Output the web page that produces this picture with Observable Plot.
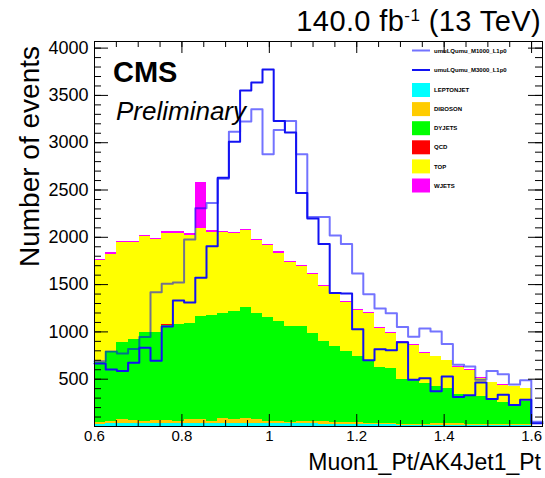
<!DOCTYPE html>
<html><head><meta charset="utf-8">
<script src="https://cdn.jsdelivr.net/npm/d3@7"></script>
<script src="https://cdn.jsdelivr.net/npm/@observablehq/plot@0.6"></script>
<style>
html,body{margin:0;padding:0;background:#fff;}
#chart{width:545px;height:478px;}
</style></head><body><div id="chart"></div>
<script>
// ---- categories ----
const processes = ["LEPTONJET","DIBOSON","DYJETS","QCD","TOP","WJETS"];
const processColors = ["#00ffff","#ffcc00","#00ff00","#ff0000","#ffff00","#ff00ff"];
const signalNames = ["umuLQumu_M1000_L1p0","umuLQumu_M3000_L1p0"];

// ---- binning (40 bins) ----
const xLow = 0.6, xHigh = 1.625, nBins = 40;

// ---- background series (events per bin) ----
const bkgLeptonjet = [18,28,28,28,28,28,28,28,28,28, 28,28,28,28,28,28,28,28,28,28, 25,25,25,22,22,18,18,12,12,12, 12,12,12,10,10,10,10,8,8,0];
const bkgDiboson   = [28,28,46,39,28,35,35,28,42,42, 28,53,42,53,42,25,28,18,25,25, 28,21,21,17,13,10,10,9,9,9, 16,16,16,11,8,8,8,10,10,0];
const bkgDyjets    = [629,736,812,854,935,927,1001,1025,1022,1094, 1120,1113,1141,1173,1124,1099,1057,1014,1009,928, 843,796,752,704,666,591,583,475,471,433, 398,372,312,310,298,272,237,212,242,0];
const bkgQcd       = [0,0,0,0,0,0,17,0,0,0, 0,0,0,0,0,0,0,0,0,0, 0,0,0,0,0,0,0,0,0,0, 0,0,0,0,0,0,0,0,0,0];
const bkgTop       = [1075,1028,1055,1023,1017,983,963,963,930,925, 879,852,826,813,771,761,719,675,634,629, 579,551,508,481,489,417,373,390,368,316, 309,295,287,264,194,170,183,192,139,0];
const bkgWjets     = [16,15,16,16,16,16,16,16,16,490, 15,15,15,15,15,14,14,12,10,12, 12,12,12,12,10,10,10,8,8,8, 8,8,8,8,8,6,6,6,6,0];

// ---- signal series ----
const sigM1000 = [690,792,771,819,947,1418,1508,1522,1977,2306, 2364,2620,3115,3225,3355,2877,3135,3230,2877,2216, 2216,2018,1930,1618,1398,1247,1198,1053,950,1036, 1004,873,652,634,495,588,553,444,489,49];
const sigM3000 = [666,602,586,673,833,694,1056,1331,1312,1573, 1906,2630,3009,3552,3636,3773,3230,3107,2469,2199, 1929,1412,1406,1028,701,817,806,890,495,510, 372,528,313,331,465,292,335,228,282,35];

// ---- axis ticks ----
const yTickValues = [500,1000,1500,2000,2500,3000,3500,4000];
const yTickLabels = ["500","1000","1500","2000","2500","3000","3500","4000"];
const xTickValues = [0.6,0.8,1.0,1.2,1.4,1.6];
const xTickLabels = ["0.6","0.8","1","1.2","1.4","1.6"];
const yMax = 4070;

// ---- build stacked table ----
const bw = (xHigh - xLow) / nBins;
const bkgSeries = [bkgLeptonjet, bkgDiboson, bkgDyjets, bkgQcd, bkgTop, bkgWjets];
const stackRects = [];
for (let i = 0; i < nBins; i++) {
  let acc = 0;
  bkgSeries.forEach((s, k) => {
    const v = s[i];
    if (v > 0) stackRects.push({x1: xLow + i*bw, x2: xLow + (i+1)*bw, y1: acc, y2: acc + v, proc: processes[k]});
    acc += v;
  });
}
function stepPoints(arr) {
  const pts = arr.map((v, i) => ({x: xLow + i*bw, y: v}));
  pts.push({x: xHigh, y: arr[arr.length-1]});
  return pts;
}
const yMinor = d3.range(0, 4001, 100);
const xMinor = d3.range(0, 21).map(i => 0.6 + i*0.05).filter(v => v <= xHigh + 1e-9);
const xMajor = xTickValues;
const yMajor = [0].concat(yTickValues);

const W = 545, H = 478;
const mL = 94, mR = 3, mT = 41, mB = 52;
const fw = W - mL - mR, fh = H - mT - mB;
const fontFam = "Liberation Sans, Arial, Helvetica, sans-serif";

const chartSvg = Plot.plot({
  width: W, height: H,
  marginLeft: mL, marginRight: mR, marginTop: mT, marginBottom: mB,
  style: {fontFamily: fontFam, background: "white", overflow: "visible"},
  x: {domain: [xLow, xHigh], axis: null},
  y: {domain: [0, yMax], axis: null},
  color: {domain: processes, range: processColors},
  marks: [
    Plot.rect(stackRects, {x1: "x1", x2: "x2", y1: "y1", y2: "y2", fill: "proc", shapeRendering: "crispEdges"}),
    Plot.line(stepPoints(sigM1000), {x: "x", y: "y", curve: "step-after", stroke: "#0000ff", strokeOpacity: 0.55, strokeWidth: 2}),
    Plot.line(stepPoints(sigM3000), {x: "x", y: "y", curve: "step-after", stroke: "#1212f2", strokeWidth: 2}),
    Plot.tickY(yMinor, {y: d => d, insetRight: fw - 7, stroke: "#000", strokeWidth: 1}),
    Plot.tickY(yMajor, {y: d => d, insetRight: fw - 14, stroke: "#000", strokeWidth: 1}),
    Plot.tickY(yMinor, {y: d => d, insetLeft: fw - 7, stroke: "#000", strokeWidth: 1}),
    Plot.tickY(yMajor, {y: d => d, insetLeft: fw - 14, stroke: "#000", strokeWidth: 1}),
    Plot.tickX(xMinor, {x: d => d, insetTop: fh - 6, stroke: "#000", strokeWidth: 1}),
    Plot.tickX(xMajor, {x: d => d, insetTop: fh - 12, stroke: "#000", strokeWidth: 1}),
    Plot.tickX(xMinor, {x: d => d, insetBottom: fh - 6, stroke: "#000", strokeWidth: 1}),
    Plot.tickX(xMajor, {x: d => d, insetBottom: fh - 12, stroke: "#000", strokeWidth: 1}),
    Plot.frame({stroke: "#000", strokeWidth: 1}),
    Plot.text(yTickValues, {y: d => d, text: (d, i) => yTickLabels[i], frameAnchor: "left", textAnchor: "end", dx: -6, fontSize: 18, fill: "#000"}),
    Plot.text(xTickValues, {x: d => d, text: (d, i) => xTickLabels[i], frameAnchor: "bottom", lineAnchor: "top", dy: 4, fontSize: 15, fill: "#000"})
  ]
});
document.getElementById("chart").appendChild(chartSvg);

// ---- annotations ----
const sel = d3.select(chartSvg);
const ann = sel.append("g").attr("font-family", fontFam).attr("fill", "#000").attr("text-anchor", "start");
const ttl = ann.append("text").attr("x", 541).attr("y", 31).attr("text-anchor", "end").attr("font-size", 29).attr("letter-spacing", 0.4);
ttl.append("tspan").text("140.0 fb");
ttl.append("tspan").attr("dy", -10).attr("font-size", 17).text("-1");
ttl.append("tspan").attr("dy", 10).text(" (13 TeV)");
ann.append("text").attr("x", 113).attr("y", 82).attr("font-size", 29).attr("font-weight", "bold").text("CMS");
ann.append("text").attr("x", 116).attr("y", 120).attr("font-size", 26).attr("font-style", "italic").text("Preliminary");
ann.append("text").attr("transform", "translate(39,46) rotate(-90)").attr("text-anchor", "end").attr("font-size", 28).text("Number of events");
ann.append("text").attr("x", 541).attr("y", 470).attr("text-anchor", "end").attr("font-size", 23).text("Muon1_Pt/AK4Jet1_Pt");

// ---- legend ----
const lg = ann.append("g").attr("font-size", 6).attr("font-weight", "bold");
const lineEntries = [{name: signalNames[0], color: "#0000ff", op: 0.55, y: 50.5}, {name: signalNames[1], color: "#1212f2", op: 1, y: 70}];
lineEntries.forEach(e => {
  lg.append("line").attr("x1", 412).attr("x2", 430).attr("y1", e.y).attr("y2", e.y).attr("stroke", e.color).attr("stroke-opacity", e.op).attr("stroke-width", 2);
  lg.append("text").attr("x", 434).attr("y", e.y).attr("dy", "0.35em").text(e.name);
});
processes.forEach((p, i) => {
  const cy = 90 + i * 19.1;
  lg.append("rect").attr("x", 412).attr("y", cy - 7).attr("width", 18).attr("height", 14).attr("fill", processColors[i]);
  lg.append("text").attr("x", 434).attr("y", cy).attr("dy", "0.35em").text(p);
});
</script></body></html>
